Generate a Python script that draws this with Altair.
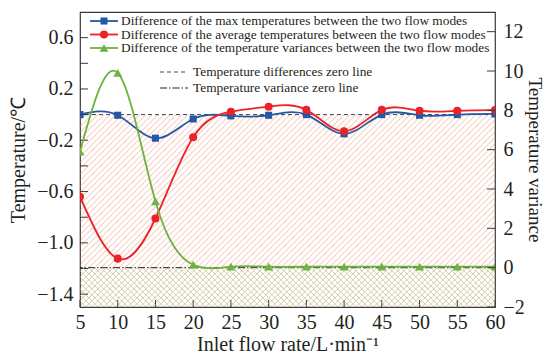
import altair as alt
import pandas as pd
import numpy as np

# ---------------- data ----------------
flow = [5, 10, 15, 20, 25, 30, 35, 40, 45, 50, 55, 60]
max_diff = [0.0, -0.005, -0.184, -0.034, -0.01, -0.005, 0.0, -0.15, 0.0, -0.005, 0.0, 0.005]
avg_diff = [-0.64, -1.123, -0.81, -0.177, 0.023, 0.062, 0.037, -0.13, 0.037, 0.03, 0.03, 0.035]
var_diff = [5.9, 9.9, 3.37, 0.15, 0.05, 0.05, 0.05, 0.05, 0.05, 0.05, 0.05, 0.05]

series_names = [
    "Difference of the max temperatures between the two flow modes",
    "Difference of the average temperatures between the two flow modes",
    "Difference of the temperature variances between the two flow modes",
]
zero_names = ["Temperature differences zero line", "Temperature variance zero line"]

x_ticks = [5, 10, 15, 20, 25, 30, 35, 40, 45, 50, 55, 60]
left_labels = [0.6, 0.2, -0.2, -0.6, -1.0, -1.4]
left_ticks = [0.6, 0.4, 0.2, 0.0, -0.2, -0.4, -0.6, -0.8, -1.0, -1.2, -1.4]
right_ticks = [-2, 0, 2, 4, 6, 8, 10, 12]
zero_value = [0]

# ---------------- style ----------------
W, H = 415, 295
X_DOM = [5, 60]
L_DOM = [-1.5, 0.8]
R_DOM = [-2, 13]
SERIF = "Liberation Serif"
TXT = "#231f20"
FRAME = "#3a3a3a"
BLUE, RED, GREEN = "#2457a6", "#ec2227", "#6db33f"
INTERP = "natural"

xs = alt.Scale(domain=X_DOM, nice=False, zero=False)
ls = alt.Scale(domain=L_DOM, nice=False, zero=False)
rs = alt.Scale(domain=R_DOM, nice=False, zero=False)

df = pd.DataFrame({"flow": flow, "maxd": max_diff, "avgd": avg_diff, "vard": var_diff})

# ---------------- hatch patterns (decoration) ----------------
def hatch(h_px, y_lo, y_span, direction, step=6.0):
    rows = []
    if direction == "/":
        for c in np.arange(-h_px, W, step):
            x0, x1 = max(0.0, c), min(W, h_px + c)
            if x1 <= x0:
                continue
            rows.append((x0, x0 - c, x1, x1 - c))
    else:
        for c in np.arange(0, W + h_px, step):
            x0, x1 = max(0.0, c - h_px), min(W, c)
            if x1 <= x0:
                continue
            rows.append((x0, c - x0, x1, c - x1))
    out = pd.DataFrame(rows, columns=["px0", "py0", "px1", "py1"])
    out["x0"] = X_DOM[0] + out["px0"] * (X_DOM[1] - X_DOM[0]) / W
    out["x1"] = X_DOM[0] + out["px1"] * (X_DOM[1] - X_DOM[0]) / W
    out["y0"] = y_lo + out["py0"] * y_span / H
    out["y1"] = y_lo + out["py1"] * y_span / H
    return out[["x0", "x1", "y0", "y1"]]

l_span = L_DOM[1] - L_DOM[0]
r_span = R_DOM[1] - R_DOM[0]
red_h = hatch((0 - L_DOM[0]) * H / l_span, L_DOM[0], l_span, "/")
green_h = hatch((0 - R_DOM[0]) * H / r_span, R_DOM[0], r_span, "\\")

# ---------------- axes (identical on every layer, so they merge cleanly) ----------------
common = dict(tickSize=0, domain=False, grid=False, labelFont=SERIF, labelFontSize=20,
              labelColor=TXT, titleFont=SERIF, titleFontWeight="normal",
              titleColor=TXT, labelOverlap=False, labelFlush=False)
x_axis = alt.Axis(values=x_ticks, format="d", labelPadding=5, titleFontSize=20,
                  title="Inlet flow rate/L·min⁻¹", titlePadding=2, **common)
l_axis = alt.Axis(values=left_labels, format=".1f", orient="left", labelPadding=7, titleFontSize=20,
                  title="Temperature/℃", titlePadding=8, **common)
r_axis = alt.Axis(values=right_ticks, format="d", orient="right", labelPadding=8, titleFontSize=19,
                  title="Temperature variance", titleX=39, titleY=H / 2, titleAngle=90,
                  titleAlign="center", titleBaseline="middle", **common)

def X(f):
    return alt.X(f, scale=xs, axis=x_axis)

def YL(f):
    return alt.Y(f, scale=ls, axis=l_axis)

def YR(f):
    return alt.Y(f, scale=rs, axis=r_axis)

# left-scale layers
red_hatch = alt.Chart(red_h).mark_rule(color="#f08a6e", strokeWidth=0.7, opacity=0.85).encode(
    x=X("x0:Q"), x2="x1:Q", y=YL("y0:Q"), y2="y1:Q")
temp_zero = alt.Chart(pd.DataFrame({"z": zero_value})).mark_rule(
    color="#444444", strokeWidth=1, strokeDash=[4, 3]).encode(y=YL("z:Q"))

base = alt.Chart(df)
blue_line = base.mark_line(color=BLUE, strokeWidth=1.8, interpolate=INTERP, clip=True).encode(
    x=X("flow:Q"), y=YL("maxd:Q"))
blue_pts = base.mark_point(shape="square", filled=True, color=BLUE, size=50, opacity=1, clip=True).encode(
    x=X("flow:Q"), y=YL("maxd:Q"))
red_line = base.mark_line(color=RED, strokeWidth=1.8, interpolate=INTERP, clip=True).encode(
    x=X("flow:Q"), y=YL("avgd:Q"))
red_pts = base.mark_point(shape="circle", filled=True, color=RED, size=65, opacity=1, clip=True).encode(
    x=X("flow:Q"), y=YL("avgd:Q"))
xt = alt.Chart(pd.DataFrame({"t": x_ticks})).mark_rule(color=FRAME, strokeWidth=1).encode(
    x=X("t:Q"), y=alt.value(H), y2=alt.value(H - 7))
lt = alt.Chart(pd.DataFrame({"t": left_ticks})).mark_rule(color=FRAME, strokeWidth=1).encode(
    y=YL("t:Q"), x=alt.value(0), x2=alt.value(8))

left_group = alt.layer(red_hatch, temp_zero, blue_line, red_line, blue_pts, red_pts, xt, lt)

# right-scale layers
green_hatch = alt.Chart(green_h).mark_rule(color="#8cc870", strokeWidth=0.7, opacity=0.85).encode(
    x=X("x0:Q"), x2="x1:Q", y=YR("y0:Q"), y2="y1:Q")
var_zero = alt.Chart(pd.DataFrame({"z": zero_value})).mark_rule(
    color="#222222", strokeWidth=1, strokeDash=[7, 2, 1.5, 2]).encode(y=YR("z:Q"))
green_line = base.mark_line(color=GREEN, strokeWidth=1.8, interpolate=INTERP, clip=True).encode(
    x=X("flow:Q"), y=YR("vard:Q"))
green_pts = base.mark_point(shape="triangle-up", filled=True, color=GREEN, size=80, opacity=1, clip=True).encode(
    x=X("flow:Q"), y=YR("vard:Q"))
rt = alt.Chart(pd.DataFrame({"t": right_ticks})).mark_rule(color=FRAME, strokeWidth=1).encode(
    y=YR("t:Q"), x=alt.value(W - 8), x2=alt.value(W))

right_group = alt.layer(green_hatch, var_zero, green_line, green_pts, rt)

# ---------------- legend (decoration, pixel placed) ----------------
LEG_FS = 13.35
leg1 = pd.DataFrame({
    "label": series_names,
    "col": [BLUE, RED, GREEN],
    "shp": ["square", "circle", "triangle-up"],
    "sz": [50, 65, 80],
})
leg1["lx"] = 24
leg1["lx0"] = 10
leg1["lx1"] = 38
leg1["tx"] = 41
leg1["ly"] = [9 + 13.5 * i for i in range(len(leg1))]
leg2 = pd.DataFrame({"label": zero_names, "dash": ["a", "b"]})
leg2["lx0"] = 80
leg2["lx1"] = 108
leg2["tx"] = 113
leg2["ly"] = [60 + 16 * i for i in range(len(leg2))]

ly = alt.Y("ly:Q", scale=None, axis=None)
leg_lines = alt.Chart(leg1).mark_rule(strokeWidth=1.8).encode(
    x=alt.X("lx0:Q", scale=None, axis=None), x2="lx1:Q", y=ly, color=alt.Color("col:N", scale=None))
leg_pts = alt.Chart(leg1).mark_point(filled=True, opacity=1).encode(
    x=alt.X("lx:Q", scale=None, axis=None), y=ly, color=alt.Color("col:N", scale=None),
    shape=alt.Shape("shp:N", scale=None), size=alt.Size("sz:Q", scale=None))
leg_text = alt.Chart(leg1).mark_text(align="left", baseline="middle", font=SERIF, fontSize=LEG_FS, color=TXT).encode(
    x=alt.X("tx:Q", scale=None, axis=None), y=ly, text="label:N")
leg2_dash = alt.Chart(leg2).transform_filter("datum.dash == 'a'").mark_rule(
    color="#444444", strokeWidth=1, strokeDash=[4, 3]).encode(
    x=alt.X("lx0:Q", scale=None, axis=None), x2="lx1:Q", y=ly)
leg2_dd = alt.Chart(leg2).transform_filter("datum.dash == 'b'").mark_rule(
    color="#222222", strokeWidth=1, strokeDash=[7, 2, 1.5, 2]).encode(
    x=alt.X("lx0:Q", scale=None, axis=None), x2="lx1:Q", y=ly)
leg2_text = alt.Chart(leg2).mark_text(align="left", baseline="middle", font=SERIF, fontSize=LEG_FS, color=TXT).encode(
    x=alt.X("tx:Q", scale=None, axis=None), y=ly, text="label:N")

chart = alt.layer(
    left_group, right_group,
    leg_lines, leg_pts, leg_text, leg2_dash, leg2_dd, leg2_text,
).resolve_scale(y="independent").properties(
    width=W, height=H,
    padding={"left": 80, "top": 12, "right": 50, "bottom": 47},
    autosize=alt.AutoSizeParams(type="none"),
    background="white",
).configure(font=SERIF).configure_view(stroke=FRAME, strokeWidth=1.2)

chart.save("out.html", embed_options={"renderer": "svg", "actions": False})
